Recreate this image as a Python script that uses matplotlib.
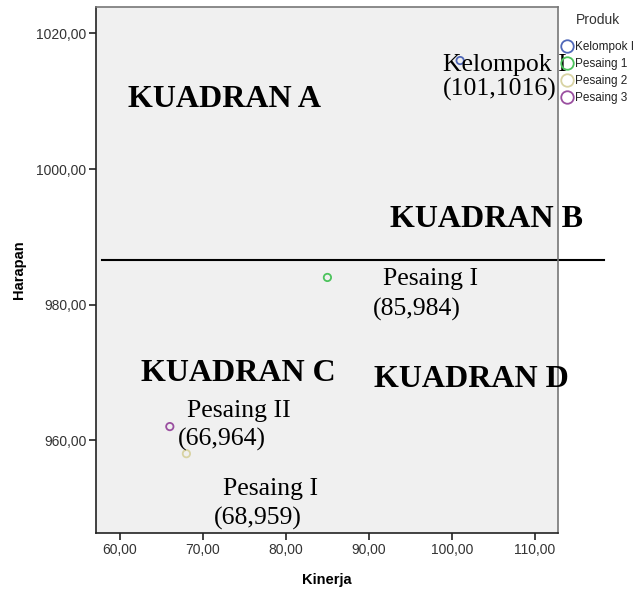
import matplotlib
matplotlib.use("Agg")
import matplotlib.pyplot as plt
from matplotlib.lines import Line2D

# Data
products = ["Kelompok I", "Pesaing 1", "Pesaing 2", "Pesaing 3"]
kinerja = [101, 85, 68, 66]
harapan = [1016, 984, 958, 962]
colors = ["#5068B8", "#4CC35C", "#D8D3A3", "#9A4FA0"]

x_ticks = [60, 70, 80, 90, 100, 110]
y_ticks = [960, 980, 1000, 1020]
divider_y = 986.6

quadrants = [("KUADRAN A", 60.96, 1010.3), ("KUADRAN B", 92.53, 992.6),
             ("KUADRAN C", 62.53, 969.9), ("KUADRAN D", 90.6, 968.9)]
labels = [("Kelompok I", 98.9, 1015.3), ("(101,1016)", 98.9, 1011.8),
          ("Pesaing I", 91.7, 983.8), ("(85,984)", 90.5, 979.3),
          ("Pesaing II", 68.07, 964.3), ("(66,964)", 67.0, 960.1),
          ("Pesaing I", 72.4, 952.8), ("(68,959)", 71.3, 948.5)]

fig = plt.figure(figsize=(6.37, 5.92), dpi=100)
ax = fig.add_axes([96/637, (592-533)/592, (558-96)/637, (533-7)/592])
ax.set_facecolor("#F0F0F0")

for p, x, y, c in zip(products, kinerja, harapan, colors):
    ax.scatter([x], [y], s=28, facecolors="none", edgecolors=c, linewidths=1.3, zorder=3)

ax.set_xlim(57.1, 112.8)
ax.set_ylim(946.3, 1023.9)
ax.set_xticks(x_ticks)
ax.set_yticks(y_ticks)
ax.set_xticklabels([f"{v:.2f}".replace(".", ",") for v in x_ticks], fontsize=10, color="#333333", family="Liberation Sans")
ax.set_yticklabels([f"{v:.2f}".replace(".", ",") for v in y_ticks], fontsize=10, color="#333333", family="Liberation Sans")
ax.tick_params(direction="out", length=5, width=1.2, color="#222222", pad=2)
for side in ["left", "bottom"]:
    ax.spines[side].set_color("#222222")
    ax.spines[side].set_linewidth(1.2)
for side in ["right", "top"]:
    ax.spines[side].set_color("#777777")
    ax.spines[side].set_linewidth(1.2)

ax.set_xlabel("Kinerja", fontsize=10.5, fontweight="bold", family="Liberation Sans", labelpad=12)
ax.set_ylabel("Harapan", fontsize=10.5, fontweight="bold", family="Liberation Sans", labelpad=7)

ax.plot([57.8, 118.4], [divider_y, divider_y], color="black", lw=1.5, clip_on=False, zorder=2)

for t, x, y in quadrants:
    ax.text(x, y, t, fontsize=23, fontweight="bold", family="Liberation Serif", va="center", ha="left", zorder=4)
for t, x, y in labels:
    ax.text(x, y, t, fontsize=18.5, family="Liberation Serif", va="center", ha="left", zorder=4)

fig.text(598/637, 1-20/592, "Produk", fontsize=10, family="Liberation Sans", color="#333333",
         ha="center", va="center")
handles = [Line2D([], [], marker="o", ls="none", markerfacecolor="none", markeredgecolor=c,
                  markeredgewidth=1.3, markersize=9) for c in colors]
leg = fig.legend(handles, products, loc="upper left", bbox_to_anchor=(562/637, 1-41/592),
                 frameon=False, handlelength=0.8, handletextpad=0.3,
                 labelspacing=0.42, borderaxespad=0, borderpad=0,
                 prop={"family": "Liberation Sans", "size": 8.5})
for t in leg.get_texts():
    t.set_color("#222222")

fig.savefig("out.png", dpi=100)
